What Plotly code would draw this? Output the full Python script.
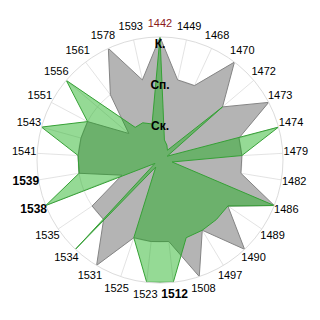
import plotly.graph_objects as go

categories = ['1442', '1449', '1468', '1470', '1472', '1473', '1474', '1479', '1482', '1486',
              '1489', '1490', '1497', '1508', '1512', '1523', '1525', '1531', '1534', '1535',
              '1538', '1539', '1541', '1543', '1551', '1556', '1561', '1578', '1593']

gray_values = [3, 2, 2, 3, 2, 3, 2, 2, 2, 3,
               2, 3, 2, 3, 2, 2, 2, 3, 2, 2,
               1, 2, 2, 2, 2, 1, 2, 3, 2]

green_values = [3, 0.5, 0.4, 0.3, 2, 0.2, 3, 2, 0.3, 3,
                2, 2, 2, 2, 3, 3, 2, 0.2, 3, 0.15,
                3, 2, 2, 3, 2, 3, 1, 1, 0.9]

level_values = [1, 2, 3]
level_labels = ['Ск.', 'Сп.', 'К.']
level_label_shift = 0.06

red_labels = {'1442'}
bold_labels = {'1512', '1538', '1539'}


def fmt(c):
    if c in red_labels:
        return '<span style="color:#8b1a1a">%s</span>' % c
    if c in bold_labels:
        return '<span style="font-size:12px"><b>%s</b></span>' % c
    return c


ticktext = [fmt(c) for c in categories]

fig = go.Figure()
fig.add_trace(go.Scatterpolar(
    r=gray_values + gray_values[:1], theta=categories + categories[:1],
    mode='lines', fill='toself', fillcolor='#b4b4b4',
    line=dict(color='#848484', width=1), hoverinfo='skip'))
fig.add_trace(go.Scatterpolar(
    r=green_values + green_values[:1], theta=categories + categories[:1],
    mode='lines', fill='toself', fillcolor='rgba(20,172,20,0.45)',
    line=dict(color='#36a036', width=1), hoverinfo='skip'))
fig.add_trace(go.Scatterpolar(
    r=[v - level_label_shift for v in level_values],
    theta=[categories[0]] * len(level_values),
    mode='text', text=level_labels, textposition='bottom center',
    textfont=dict(family='Liberation Sans, Arial', size=12, color='black'),
    texttemplate='<b>%{text}</b>', hoverinfo='skip'))
# category labels on an outer, invisible polar frame so they sit centred on each spoke
fig.add_trace(go.Scatterpolar(
    r=[1] * len(categories), theta=categories, subplot='polar2',
    mode='text', text=ticktext, textposition='middle center',
    textfont=dict(family='Liberation Sans, Arial', size=11, color='black'),
    cliponaxis=False, hoverinfo='skip'))

angular_common = dict(type='category', categoryarray=categories,
                      direction='clockwise', rotation=90)

fig.update_layout(
    width=320, height=320,
    margin=dict(l=24, r=24, t=24, b=24),
    paper_bgcolor='white', plot_bgcolor='white',
    showlegend=False,
    font=dict(family='Liberation Sans, Arial', size=11, color='black'),
    polar=dict(
        domain=dict(x=[13 / 272, 259 / 272], y=[13 / 272, 259 / 272]),
        bgcolor='white',
        angularaxis=dict(
            **angular_common,
            showticklabels=False,
            showline=True, linecolor='#dcdcdc', linewidth=1,
            gridcolor='rgba(215,215,215,0.7)', gridwidth=1,
            ticks='', layer='above traces'),
        radialaxis=dict(
            range=[0, 3], tickvals=level_values, showticklabels=False,
            ticks='', showline=False,
            gridcolor='rgba(215,215,215,0.7)', gridwidth=1,
            layer='above traces'),
    ),
    polar2=dict(
        domain=dict(x=[0, 1], y=[0, 1]),
        bgcolor='rgba(0,0,0,0)',
        angularaxis=dict(**angular_common, visible=False, showgrid=False,
                         showline=False, showticklabels=False, ticks=''),
        radialaxis=dict(range=[0, 1], visible=False, showgrid=False,
                        showline=False, showticklabels=False, ticks=''),
    ),
)

fig.write_html('out.html')
